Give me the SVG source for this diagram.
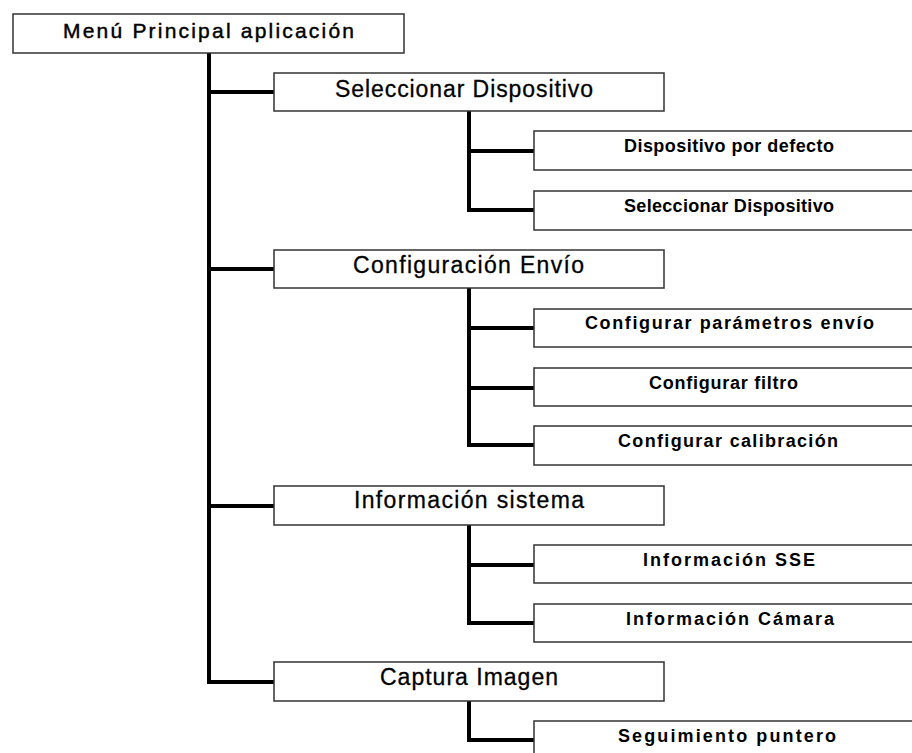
<svg xmlns="http://www.w3.org/2000/svg" width="912" height="753" viewBox="0 0 912 753">
<style>
.box{fill:#fff;stroke:#333;stroke-width:1.5}
.conn{fill:none;stroke:#000;stroke-width:4;stroke-linejoin:miter}
.t0{font-family:"Liberation Sans",Arial,sans-serif;font-size:21px;fill:#000;stroke:#000;stroke-width:0.45;text-anchor:middle}
.t1{font-family:"Liberation Sans",Arial,sans-serif;font-size:23px;fill:#000;stroke:#000;stroke-width:0.3;text-anchor:middle}
.t2{font-family:"Liberation Sans",Arial,sans-serif;font-size:18px;font-weight:bold;fill:#000;text-anchor:middle}
</style>
<rect width="912" height="753" fill="#fff"/>
<g id="connectors">
<path class="conn" d="M209,53 V682 H274 M209,92 H274 M209,269 H274 M209,506 H274"/>
<path class="conn" d="M469,111 V210 H534 M469,151 H534"/>
<path class="conn" d="M469,288 V445 H534 M469,328 H534 M469,388 H534"/>
<path class="conn" d="M469,525 V623 H534 M469,565 H534"/>
<path class="conn" d="M469,701 V740 H534"/>
</g>
<g id="root"><rect class="box" x="13" y="14" width="391" height="39"/><text class="t0" x="208.5" y="38" textLength="291" lengthAdjust="spacing">Menú Principal aplicación</text></g>
<g id="sel"><rect class="box" x="274" y="73" width="390" height="38"/><text class="t1" x="464" y="97" textLength="258" lengthAdjust="spacing">Seleccionar Dispositivo</text></g>
<g id="sel-def"><rect class="box" x="534" y="131" width="390" height="39"/><text class="t2" x="729" y="151.5" textLength="210" lengthAdjust="spacing">Dispositivo por defecto</text></g>
<g id="sel-sel"><rect class="box" x="534" y="191" width="390" height="39"/><text class="t2" x="729" y="211.5" textLength="210" lengthAdjust="spacing">Seleccionar Dispositivo</text></g>
<g id="conf"><rect class="box" x="274" y="250" width="390" height="38"/><text class="t1" x="468.5" y="273" textLength="231" lengthAdjust="spacing">Configuración Envío</text></g>
<g id="conf-param"><rect class="box" x="534" y="309" width="390" height="38"/><text class="t2" x="729.5" y="328.5" textLength="289" lengthAdjust="spacing">Configurar parámetros  envío</text></g>
<g id="conf-filtro"><rect class="box" x="534" y="368" width="390" height="38"/><text class="t2" x="723.5" y="388.5" textLength="149" lengthAdjust="spacing">Configurar filtro</text></g>
<g id="conf-calib"><rect class="box" x="534" y="426" width="390" height="39"/><text class="t2" x="728" y="446.5" textLength="220" lengthAdjust="spacing">Configurar calibración</text></g>
<g id="info"><rect class="box" x="274" y="486" width="390" height="39"/><text class="t1" x="469" y="508" textLength="230" lengthAdjust="spacing">Información sistema</text></g>
<g id="info-sse"><rect class="box" x="534" y="545" width="390" height="38"/><text class="t2" x="729" y="566" textLength="172" lengthAdjust="spacing">Información SSE</text></g>
<g id="info-cam"><rect class="box" x="534" y="604" width="390" height="38"/><text class="t2" x="730" y="625" textLength="208" lengthAdjust="spacing">Información Cámara</text></g>
<g id="captura"><rect class="box" x="274" y="662" width="390" height="39"/><text class="t1" x="469" y="685" textLength="178" lengthAdjust="spacing">Captura Imagen</text></g>
<g id="seguimiento"><rect class="box" x="534" y="721" width="390" height="39"/><text class="t2" x="727" y="742" textLength="218" lengthAdjust="spacing">Seguimiento puntero</text></g>
</svg>
